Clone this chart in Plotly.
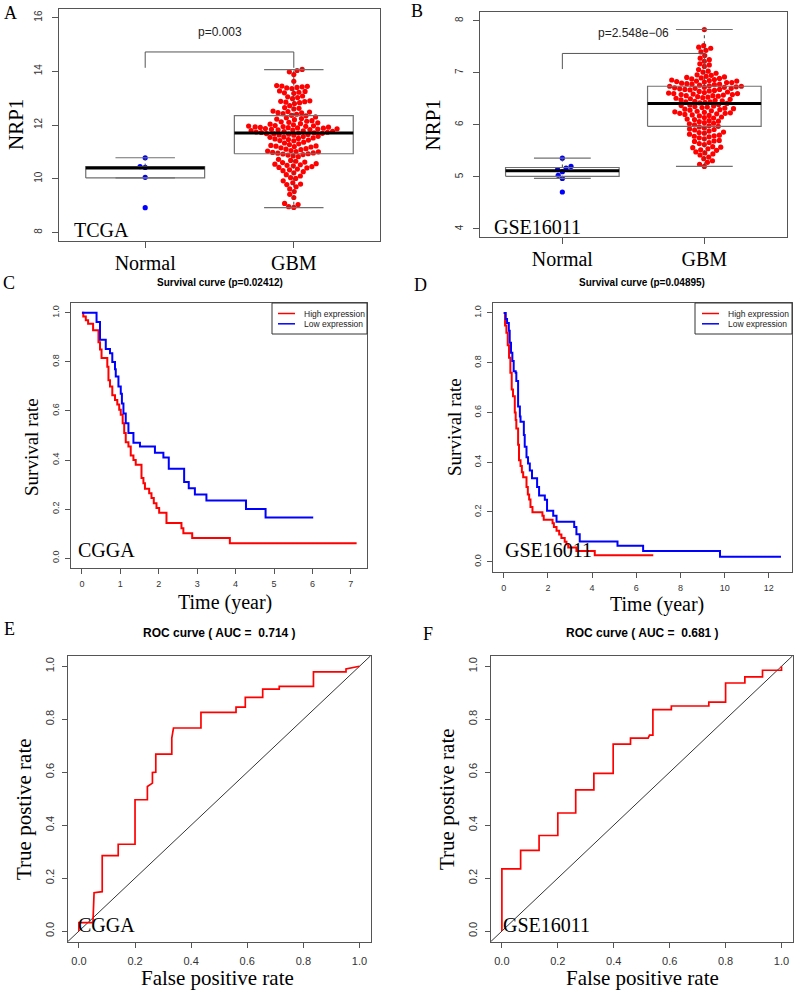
import math
import plotly.graph_objects as go

# ---------------- DATA ----------------
groups = ["Normal", "GBM"]

# Panel A (TCGA) expression values
tcga_normal = [8.92, 10.05, 10.42, 10.45, 10.78]
tcga_gbm = [
    14.07, 14.03, 13.98, 13.88, 13.63,
    13.47, 13.45, 13.44, 13.42, 13.40, 13.38, 13.36,
    13.27, 13.25, 13.22, 13.20, 13.18,
    13.08, 13.05, 13.02, 12.98,
    12.90, 12.88, 12.87, 12.85, 12.83, 12.80,
    12.72, 12.65, 12.62, 12.60,
    12.52, 12.50, 12.48, 12.46, 12.45, 12.42, 12.40,
    12.36, 12.34, 12.30, 12.27, 12.24, 12.22, 12.20,
    12.16, 12.14, 12.12, 12.10, 12.08, 12.05, 12.03, 12.01,
    11.98, 11.97, 11.96, 11.95, 11.94, 11.93, 11.92, 11.91, 11.90,
    11.89, 11.88, 11.87, 11.86, 11.85, 11.84, 11.83, 11.82, 11.81,
    11.79, 11.78, 11.76, 11.75, 11.74, 11.73, 11.72, 11.71,
    11.70, 11.69, 11.68, 11.67, 11.66, 11.65, 11.63, 11.62,
    11.58, 11.57, 11.55, 11.54, 11.52, 11.50, 11.48, 11.46, 11.44, 11.42, 11.41,
    11.36, 11.33, 11.30, 11.27, 11.24, 11.22, 11.21, 11.20,
    11.18, 11.15, 11.12, 11.10, 11.08, 11.05, 11.03, 11.01, 11.00,
    10.98, 10.96, 10.95, 10.93, 10.92, 10.90, 10.88, 10.85, 10.82,
    10.72, 10.68, 10.65, 10.62, 10.60,
    10.56, 10.54, 10.52, 10.50, 10.48, 10.45, 10.42, 10.40,
    10.36, 10.33, 10.30, 10.26, 10.22,
    10.15, 10.10, 10.04, 10.01,
    9.92, 9.85, 9.80, 9.78, 9.70, 9.62, 9.52, 9.42, 9.30,
    9.08, 9.04, 8.96, 8.93,
]
# box statistics: lower whisker, Q1, median, Q3, upper whisker
tcga_box = {"Normal": [10.03, 10.03, 10.40, 10.45, 10.78],
            "GBM": [8.92, 10.93, 11.70, 12.35, 14.06]}
tcga_p = "p=0.003"
tcga_bracket = [14.13, 14.72]
tcga_p_y = 15.48

# Panel B (GSE16011) expression values
gse_normal = [4.71, 4.97, 5.03, 5.10, 5.14, 5.17, 5.20, 5.36]
gse_gbm = [
    7.83,
    7.52, 7.49, 7.47, 7.43, 7.40,
    7.33, 7.28, 7.25, 7.22,
    7.17, 7.15, 7.12,
    7.06, 7.03, 7.01, 6.99,
    6.96, 6.95, 6.93, 6.92, 6.91, 6.90, 6.89,
    6.88, 6.87, 6.86, 6.85, 6.84, 6.84, 6.83, 6.82, 6.81, 6.81, 6.80, 6.79, 6.78, 6.78, 6.77,
    6.76, 6.75, 6.74, 6.74, 6.73, 6.72, 6.72, 6.71, 6.70, 6.70, 6.69, 6.68, 6.68, 6.67, 6.66,
    6.65, 6.64, 6.63, 6.62, 6.61, 6.60, 6.60, 6.59, 6.58, 6.58, 6.57, 6.56, 6.56, 6.55, 6.54, 6.53,
    6.52, 6.51, 6.50, 6.49, 6.48, 6.47, 6.46, 6.45, 6.44, 6.44, 6.43, 6.42, 6.41,
    6.39, 6.38, 6.37, 6.36, 6.35, 6.34, 6.33, 6.32, 6.31, 6.30,
    6.29, 6.28, 6.27, 6.26, 6.25, 6.24, 6.23, 6.22, 6.22, 6.21, 6.20, 6.19, 6.18,
    6.17, 6.15, 6.14, 6.13, 6.11, 6.10, 6.08, 6.07,
    6.06, 6.04, 6.03, 6.02, 6.00, 5.98, 5.97,
    5.96, 5.94, 5.92, 5.91, 5.90, 5.88, 5.86, 5.85,
    5.84, 5.82, 5.80, 5.79, 5.78, 5.77, 5.75, 5.73,
    5.70, 5.69, 5.68, 5.66, 5.64, 5.62,
    5.58, 5.57, 5.56, 5.54, 5.52, 5.51,
    5.48, 5.46, 5.44, 5.42,
    5.38, 5.35, 5.31,
    5.28, 5.24, 5.20,
]
gse_box = {"Normal": [4.97, 5.01, 5.12, 5.18, 5.36],
           "GBM": [5.20, 5.97, 6.41, 6.74, 7.83]}
gse_p = "p=2.548e\u221206"
gse_bracket = [7.07, 7.37]
gse_p_y = 7.76

# Panel C (CGGA) Kaplan-Meier
cgga_high_t = [0, 0.035, 0.10, 0.16, 0.29, 0.43, 0.47, 0.51, 0.66, 0.69, 0.73, 0.79, 0.86, 0.92, 0.97,
               1.01, 1.06, 1.10, 1.14, 1.21, 1.27, 1.34, 1.40, 1.55, 1.60, 1.64, 1.75, 1.81, 1.87, 1.94,
               2.01, 2.20, 2.59, 2.64, 2.87, 3.85, 7.15]
cgga_high_s = [1.0, 0.985, 0.97, 0.955, 0.929, 0.88, 0.85, 0.816, 0.78, 0.725, 0.70, 0.664, 0.645, 0.626, 0.605,
               0.585, 0.55, 0.51, 0.473, 0.455, 0.419, 0.40, 0.381, 0.327, 0.305, 0.283, 0.265, 0.245, 0.224, 0.205,
               0.185, 0.143, 0.122, 0.102, 0.082, 0.061, 0.061]
cgga_low_t = [0, 0.38, 0.47, 0.62, 0.73, 0.79, 0.86, 0.88, 0.95, 1.01, 1.04, 1.08, 1.14, 1.21, 1.34, 1.51,
              1.90, 2.12, 2.26, 2.66, 2.78, 2.94, 3.24, 4.27, 4.78, 6.02]
cgga_low_s = [1.0, 0.963, 0.89, 0.853, 0.835, 0.80, 0.77, 0.74, 0.70, 0.67, 0.63, 0.59, 0.55, 0.51, 0.47, 0.455,
              0.43, 0.41, 0.365, 0.31, 0.285, 0.26, 0.235, 0.20, 0.166, 0.166]
cgga_surv_title = "Survival curve (p=0.02412)"

# Panel D (GSE16011) Kaplan-Meier
gse_high_t = [0, 0.06, 0.12, 0.18, 0.24, 0.30, 0.36, 0.42, 0.50, 0.54, 0.57, 0.65, 0.69, 0.76, 0.82, 0.88,
              1.03, 1.09, 1.15, 1.21, 1.30, 1.75, 1.81, 2.21, 2.27, 2.39, 2.51, 2.61, 2.76, 2.84, 2.92,
              3.29, 4.12, 6.77]
gse_high_s = [1.0, 0.95, 0.92, 0.87, 0.82, 0.76, 0.692, 0.665, 0.60, 0.57, 0.536, 0.47, 0.408, 0.385, 0.36, 0.34,
              0.30, 0.27, 0.25, 0.22, 0.199, 0.185, 0.169, 0.155, 0.14, 0.125, 0.11, 0.095, 0.08, 0.07, 0.057,
              0.043, 0.026, 0.026]
gse_low_t = [0, 0.09, 0.15, 0.23, 0.27, 0.33, 0.39, 0.45, 0.54, 0.57, 0.65, 0.73, 0.76, 0.91, 0.95,
             1.03, 1.10, 1.18, 1.28, 1.51, 1.60, 1.86, 1.96, 2.24, 2.39, 3.19, 3.29, 3.44, 5.15, 6.31, 9.79, 12.55]
gse_low_s = [1.0, 0.976, 0.96, 0.928, 0.88, 0.84, 0.807, 0.766, 0.76, 0.726, 0.624, 0.584, 0.563, 0.509, 0.462,
             0.42, 0.395, 0.367, 0.336, 0.30, 0.266, 0.249, 0.205, 0.185, 0.161, 0.14, 0.111, 0.081, 0.064,
             0.043, 0.02, 0.02]
gse_surv_title = "Survival curve (p=0.04895)"
legend_labels = ["High expression", "Low expression"]

# Panel E (CGGA) ROC
cgga_fpr = [0, 0, 0.05, 0.054, 0.083, 0.083, 0.14, 0.14, 0.2, 0.2, 0.2, 0.244, 0.244, 0.262, 0.262, 0.274,
            0.274, 0.331, 0.331, 0.337, 0.435, 0.435, 0.56, 0.56, 0.593, 0.593, 0.655, 0.655, 0.714, 0.714,
            0.836, 0.836, 0.952, 0.952, 1.0]
cgga_tpr = [0, 0.032, 0.032, 0.145, 0.149, 0.285, 0.285, 0.328, 0.328, 0.376, 0.496, 0.496, 0.546, 0.559,
            0.599, 0.60, 0.668, 0.668, 0.729, 0.767, 0.767, 0.826, 0.826, 0.846, 0.846, 0.883, 0.883, 0.914,
            0.914, 0.924, 0.924, 0.979, 0.979, 0.99, 1.0]
cgga_roc_title = "ROC curve ( AUC = \u00a00.714 )"

# Panel F (GSE16011) ROC
gse_fpr = [0, 0, 0.067, 0.067, 0.133, 0.133, 0.2, 0.2, 0.264, 0.264, 0.329, 0.329, 0.398, 0.398, 0.46, 0.46,
           0.523, 0.528, 0.54, 0.54, 0.606, 0.606, 0.74, 0.74, 0.80, 0.80, 0.869, 0.869, 0.932, 0.932, 1.0, 1.0]
gse_tpr = [0, 0.235, 0.235, 0.305, 0.305, 0.361, 0.361, 0.446, 0.446, 0.533, 0.533, 0.596, 0.596, 0.706, 0.706,
           0.729, 0.729, 0.74, 0.74, 0.836, 0.836, 0.85, 0.85, 0.865, 0.865, 0.937, 0.937, 0.96, 0.96, 0.985,
           0.985, 1.0]
gse_roc_title = "ROC curve ( AUC = \u00a00.681 )"

# ---------------- LAYOUT HELPERS ----------------
W, H = 796, 991
SERIF = "Liberation Serif, Times New Roman, serif"
SANS = "Liberation Sans, Arial, sans-serif"
RED, BLUE = "#FF0000", "#0000FF"
LINE = "#555555"


def dx(a, b):
    return [a / W, b / W]


def dy(top, bottom):
    return [1 - bottom / H, 1 - top / H]


def px(x):
    return x / W


def py(y):
    return 1 - y / H


def swarm_offsets(vals, xpx, ypx, d):
    order = sorted(range(len(vals)), key=lambda k: vals[k])
    placed = []
    offs = [0.0] * len(vals)
    for k in order:
        y = vals[k] * ypx
        near = [(qx, qy) for qx, qy in placed if abs(qy - y) < d]
        cands = [0.0]
        for qx, qy in near:
            ddx = math.sqrt(max(d * d - (qy - y) ** 2, 0))
            cands += [qx + ddx, qx - ddx]
        cands.sort(key=lambda c: (abs(c), c))
        chosen = 0.0
        for c in cands:
            if all((c - qx) ** 2 + (y - qy) ** 2 >= d * d - 1e-6 for qx, qy in near):
                chosen = c
                break
        placed.append((chosen, y))
        offs[k] = chosen / xpx
    return offs


fig = go.Figure()

panels = {
    "A": dict(x=(59, 380), y=(9, 241)),
    "B": dict(x=(480, 786.7), y=(12.3, 237.3)),
    "C": dict(x=(71, 367), y=(303, 568)),
    "D": dict(x=(492.7, 792), y=(303, 571.7)),
    "E": dict(x=(67.7, 370.7), y=(655.7, 941.7)),
    "F": dict(x=(490.7, 792.7), y=(655.7, 941.7)),
}
axis_ids = {"A": "", "B": "2", "C": "3", "D": "4", "E": "5", "F": "6"}

base_axis = dict(showline=True, mirror=True, linecolor=LINE, linewidth=1, ticks="outside",
                 ticklen=5, tickcolor=LINE, showgrid=False, zeroline=False,
                 tickfont=dict(family=SANS, size=10, color="#333333"))


def box_panel(key, normal, gbm, box, p_text, bracket, p_y, yrange, ytick, ypx_unit, xpx_unit):
    n = axis_ids[key]
    xr, yr = "x" + n, "y" + n
    d = 5.2
    for i, (vals, col) in enumerate([(normal, BLUE), (gbm, RED)], start=1):
        offs = swarm_offsets(vals, xpx_unit, ypx_unit, d)
        fig.add_trace(go.Scatter(x=[i + o for o in offs], y=vals, mode="markers", xaxis=xr, yaxis=yr,
                                 marker=dict(color=col, size=5.2, line=dict(width=0)),
                                 showlegend=False, hoverinfo="y"))
    bx, by, wx, wy, cx, cy, mx, my = [], [], [], [], [], [], [], []
    for i, g in enumerate(groups, start=1):
        lo, q1, med, q3, hi = box[g]
        bx += [i - 0.4, i + 0.4, i + 0.4, i - 0.4, i - 0.4, None]
        by += [q1, q1, q3, q3, q1, None]
        wx += [i, i, None, i, i, None]
        wy += [q3, hi, None, q1, lo, None]
        cx += [i - 0.2, i + 0.2, None, i - 0.2, i + 0.2, None]
        cy += [hi, hi, None, lo, lo, None]
        mx += [i - 0.4, i + 0.4, None]
        my += [med, med, None]
    fig.add_trace(go.Scatter(x=wx, y=wy, mode="lines", xaxis=xr, yaxis=yr, showlegend=False,
                             line=dict(color="#444444", width=1, dash="dot"), hoverinfo="skip"))
    fig.add_trace(go.Scatter(x=bx, y=by, mode="lines", xaxis=xr, yaxis=yr, showlegend=False,
                             line=dict(color="#707070", width=1.2), hoverinfo="skip"))
    fig.add_trace(go.Scatter(x=cx, y=cy, mode="lines", xaxis=xr, yaxis=yr, showlegend=False,
                             line=dict(color="#707070", width=1.2), hoverinfo="skip"))
    fig.add_trace(go.Scatter(x=mx, y=my, mode="lines", xaxis=xr, yaxis=yr, showlegend=False,
                             line=dict(color="black", width=3), hoverinfo="skip"))
    fig.add_trace(go.Scatter(x=[1, 1, 2, 2], y=[bracket[0], bracket[1], bracket[1], bracket[0]],
                             mode="lines", xaxis=xr, yaxis=yr, showlegend=False,
                             line=dict(color="#555555", width=1), hoverinfo="skip"))
    fig.add_annotation(x=1.5, y=p_y, xref=xr, yref=yr, text=p_text, showarrow=False,
                       font=dict(family=SANS, size=12, color="#222222"))
    fig.update_layout(**{
        "xaxis" + n: dict(base_axis, domain=dx(*panels[key]["x"]), anchor=yr, range=[0.42, 2.58],
                          tickvals=[1, 2], ticktext=groups, ticklen=6, ticklabelstandoff=-2,
                          tickfont=dict(family=SERIF, size=20, color="black")),
        "yaxis" + n: dict(base_axis, domain=dy(*panels[key]["y"]), anchor=xr, range=yrange,
                          tickvals=ytick, tickangle=-90, ticklen=6, ticklabelstandoff=6),
    })


box_panel("A", tcga_normal, tcga_gbm, tcga_box, tcga_p, tcga_bracket, tcga_p_y,
          [7.68, 16.32], [8, 10, 12, 14, 16], 232 / 8.64, 321 / 2.16)
box_panel("B", gse_normal, gse_gbm, gse_box, gse_p, gse_bracket, gse_p_y,
          [3.84, 8.16], [4, 5, 6, 7, 8], 225 / 4.32, 306.7 / 2.16)


def km_panel(key, ht, hs, lt, ls, xrange, xtick, leg_box):
    n = axis_ids[key]
    xr, yr = "x" + n, "y" + n
    fig.add_trace(go.Scatter(x=ht, y=hs, mode="lines", line_shape="hv", xaxis=xr, yaxis=yr,
                             line=dict(color=RED, width=2), name=legend_labels[0], showlegend=False))
    fig.add_trace(go.Scatter(x=lt, y=ls, mode="lines", line_shape="hv", xaxis=xr, yaxis=yr,
                             line=dict(color=BLUE, width=2), name=legend_labels[1], showlegend=False))
    fig.update_layout(**{
        "xaxis" + n: dict(base_axis, domain=dx(*panels[key]["x"]), anchor=yr, range=xrange,
                          tickvals=xtick, ticklabelstandoff=2,
                          tickfont=dict(family=SANS, size=9, color="#333333")),
        "yaxis" + n: dict(base_axis, domain=dy(*panels[key]["y"]), anchor=xr, range=[-0.04, 1.04],
                          tickvals=[0, 0.2, 0.4, 0.6, 0.8, 1.0], tickformat=".1f", tickangle=-90,
                          ticklabelstandoff=2, tickfont=dict(family=SANS, size=9, color="#333333")),
    })
    # legend frame (R style), drawn in paper coordinates
    left, right, top, bottom, line_x0, line_x1, text_x = leg_box
    fig.add_shape(type="rect", xref="paper", yref="paper", x0=px(left), x1=px(right), y0=py(bottom),
                  y1=py(top), line=dict(color="#333333", width=1), fillcolor="white", layer="above")
    for k, (lab, col) in enumerate(zip(legend_labels, [RED, BLUE])):
        yy = top + 10.5 + k * 10.3
        fig.add_shape(type="line", xref="paper", yref="paper", x0=px(line_x0), x1=px(line_x1),
                      y0=py(yy), y1=py(yy), line=dict(color=col, width=1.5), layer="above")
        fig.add_annotation(x=px(text_x), y=py(yy), xref="paper", yref="paper", text=lab, showarrow=False,
                           xanchor="left", yanchor="middle",
                           font=dict(family=SANS, size=8.5, color="#222222"))


km_panel("C", cgga_high_t, cgga_high_s, cgga_low_t, cgga_low_s, [-0.285, 7.42], list(range(8)),
         (272, 367, 303, 334, 278, 295, 302))
km_panel("D", gse_high_t, gse_high_s, gse_low_t, gse_low_s, [-0.5, 13.05], list(range(0, 13, 2)),
         (695, 792, 303, 334, 702, 719, 726))


def roc_panel(key, fpr, tpr):
    n = axis_ids[key]
    xr, yr = "x" + n, "y" + n
    rng = [-0.04, 1.04]
    fig.add_trace(go.Scatter(x=rng, y=rng, mode="lines", xaxis=xr, yaxis=yr, showlegend=False,
                             line=dict(color="black", width=0.8), hoverinfo="skip"))
    fig.add_trace(go.Scatter(x=fpr, y=tpr, mode="lines", xaxis=xr, yaxis=yr, showlegend=False,
                             line=dict(color=RED, width=1.7)))
    ticks = [0, 0.2, 0.4, 0.6, 0.8, 1.0]
    fig.update_layout(**{
        "xaxis" + n: dict(base_axis, domain=dx(*panels[key]["x"]), anchor=yr, range=rng, tickvals=ticks,
                          tickformat=".1f", ticklabelstandoff=4,
                          tickfont=dict(family=SANS, size=11, color="#333333")),
        "yaxis" + n: dict(base_axis, domain=dy(*panels[key]["y"]), anchor=xr, range=rng, tickvals=ticks,
                          tickformat=".1f", tickangle=-90, ticklabelstandoff=3,
                          tickfont=dict(family=SANS, size=11, color="#333333")),
    })


roc_panel("E", cgga_fpr, cgga_tpr)
roc_panel("F", gse_fpr, gse_tpr)

# ---------------- TEXT ----------------
texts = [
    ("A", 10, 13, SERIF, 18, 0, False), ("B", 417, 11, SERIF, 18, 0, False),
    ("C", 9, 283, SERIF, 18, 0, False), ("D", 420.5, 285, SERIF, 18, 0, False),
    ("E", 9, 629, SERIF, 18, 0, False), ("F", 427.5, 634, SERIF, 18, 0, False),
    ("NRP1", 16, 125, SERIF, 21, -90, False), ("NRP1", 432.5, 125, SERIF, 21, -90, False),
    ("TCGA", 101, 230, SERIF, 20, 0, False), ("GSE16011", 537, 227, SERIF, 20, 0, False),
    (cgga_surv_title, 220, 283, SANS, 10, 0, True), (gse_surv_title, 642, 283, SANS, 10, 0, True),
    ("Survival rate", 31, 447, SERIF, 19, -90, False), ("Survival rate", 454, 427, SERIF, 19, -90, False),
    ("Time (year)", 225, 602, SERIF, 20, 0, False), ("Time (year)", 657, 604, SERIF, 20, 0, False),
    ("CGGA", 106, 550, SERIF, 20, 0, False), ("GSE16011", 548, 550, SERIF, 20, 0, False),
    (cgga_roc_title, 219, 633, SANS, 12, 0, True), (gse_roc_title, 642, 633, SANS, 12, 0, True),
    ("True postive rate", 24, 809, SERIF, 21, -90, False), ("True postive rate", 447, 799, SERIF, 21, -90, False),
    ("False positive rate", 217, 978, SERIF, 21, 0, False), ("False positive rate", 642, 978, SERIF, 21, 0, False),
    ("CGGA", 106, 925, SERIF, 20, 0, False), ("GSE16011", 546, 925, SERIF, 20, 0, False),
]
for t, x, y, fam, size, ang, bold in texts:
    fig.add_annotation(x=px(x), y=py(y), xref="paper", yref="paper", text=f"<b>{t}</b>" if bold else t,
                       showarrow=False, textangle=ang, xanchor="center", yanchor="middle",
                       font=dict(family=fam, size=size, color="black"))

fig.update_layout(width=W, height=H, margin=dict(l=0, r=0, t=0, b=0), paper_bgcolor="white",
                  plot_bgcolor="white", showlegend=False)

fig.write_html("out.html", config={"displayModeBar": False},
               post_script="document.body.style.margin='0px';document.body.style.overflow='hidden';")
